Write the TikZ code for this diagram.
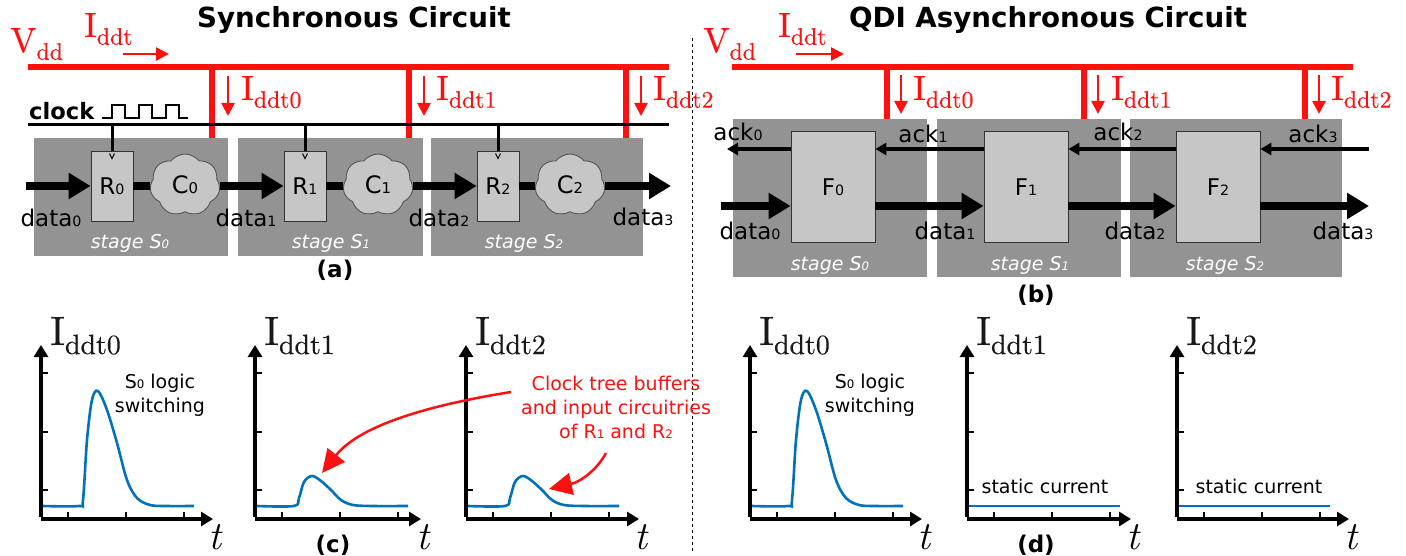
\documentclass[tikz,border=0pt]{standalone}
\usepackage{fontspec}
\setsansfont{DejaVu Sans}
\newfontfamily\curfont[FakeBold=0.3]{lmroman10-regular.otf}
\usetikzlibrary{arrows.meta,shapes.symbols}
\definecolor{busred}{HTML}{FF1010}
\definecolor{stagegray}{HTML}{939393}
\definecolor{cellgray}{HTML}{C6C6C6}
\definecolor{waveblue}{HTML}{0072BD}
\newcommand{\fsz}[1]{\fontsize{#1}{#1}\selectfont}
\newcommand{\sdig}[1]{\scalebox{.62}{#1}}
\newcommand{\lsub}[2]{#1\raisebox{-.22em}{\scalebox{.68}{#2}}}
\tikzset{
  bus/.style={busred,line width=6pt},
  drop/.style={busred,line width=6pt},
  curarrow/.style={busred,line width=2.5pt,-{Triangle[length=13pt,width=13pt]}},
  datarrow/.style={line width=7.5pt,-{Triangle[length=22pt,width=25pt]}},
  ackarrow/.style={line width=3.5pt,-{Triangle[length=11pt,width=12pt]}},
  stagebox/.style={fill=stagegray,anchor=north west,inner sep=0pt},
  cell/.style={draw=black!80,fill=cellgray,line width=.8pt,inner sep=0pt,font=\sffamily\fsz{23}},
  cloudcell/.style={cloud,cloud puffs=7,cloud puff arc=105,aspect=1.1,shape border rotate=90,draw=black!70,fill=cellgray,line width=.8pt,inner sep=0pt,minimum width=70pt,minimum height=62pt,font=\sffamily\fsz{24}},
  redlab/.style={busred,font=\curfont\fsz{35},inner sep=0pt,anchor=base west},
  datalab/.style={font=\sffamily\fsz{23},inner sep=0pt},
  stagelab/.style={white,font=\sffamily\itshape\fsz{19},inner sep=0pt},
  titlelab/.style={font=\sffamily\bfseries\fsz{27.7},inner sep=0pt},
  sublab/.style={font=\sffamily\bfseries\fsz{23},inner sep=0pt},
  axis/.style={line width=4.5pt,-{Triangle[length=12pt,width=14pt]}},
  tick/.style={line width=1.6pt},
  wave/.style={waveblue,line width=2.6pt},
  axlab/.style={black!90,font=\curfont\fsz{41},inner sep=0pt,anchor=base west},
  note/.style={font=\sffamily\fontsize{19}{24}\selectfont,inner sep=0pt,align=center},
  callout/.style={busred,line width=2.5pt,-{Triangle[length=23pt,width=22pt]}},
}
\begin{document}
\begin{tikzpicture}[x=1pt,y=-1pt]
\useasboundingbox (0,0) rectangle (1406,556);
% synchronous circuit
\node[titlelab] (titlea) at (354,20) {Synchronous Circuit};
\node[redlab] (vdda) at (10,52) {\lsub{V}{dd}};
\node[redlab] (ia) at (84,37) {\lsub{I}{ddt}};
\coordinate (busa0) at (28,67); \coordinate (busa1) at (669,67);
\draw[bus] (busa0) -- (busa1);
\coordinate (ika0) at (123,54); \coordinate (ika1) at (169,54);
\draw[curarrow] (ika0) -- (ika1);
\foreach \st/\sx/\sw/\dx/\ax/\slx/\lx in {0/34/194/212/228/130/241,1/238/185/409/424/331/436,2/431/212/626/641/524/653}{
  \node[stagebox,minimum width=\sw pt,minimum height=118pt] (sa\st) at (\sx,138) {};
  \coordinate (da\st) at (\dx,67);
  \coordinate (dae\st) at (\dx,138);
  \draw[drop] (da\st) -- (dae\st);
  \coordinate (ca\st) at (\ax,76); \coordinate (cb\st) at (\ax,116);
  \draw[curarrow] (ca\st) -- (cb\st);
  \node[redlab] (ida\st) at (\lx,100) {\lsub{I}{ddt\st}};
  \node[stagelab] at (\slx,243) {stage S\sdig{\st}};
}
\coordinate (cka) at (28,125); \coordinate (ckb) at (669,125);
\draw[line width=3pt] (cka) -- (ckb);
\node[font=\sffamily\bfseries\fsz{22.6},inner sep=0pt,anchor=west] (clk) at (29,111) {clock};
\draw[line width=1.7pt] (102,118) -- (112,118) -- (112,105) -- (125,105) -- (125,118) -- (139,118) -- (139,105) -- (152,105) -- (152,118) -- (166,118) -- (166,105) -- (179,105) -- (179,118) -- (188,118);
\coordinate (ina) at (26,186); \coordinate (outa) at (671,186);
\foreach \st/\rx/\cx in {0/112/185,1/305/378,2/498/570}{
  \node[cell,minimum width=42pt,minimum height=70pt] (r\st) at (\rx,186) {R\sdig{\st}};
  \node[cloudcell] (c\st) at (\cx,185) {C\sdig{\st}};
  \coordinate (tap\st) at (\rx,125);
  \draw[line width=3pt] (tap\st) -- (r\st.north);
  \draw[line width=1pt] ([shift={(-2.5,3)}]r\st.north) -- ([shift={(0,8)}]r\st.north) -- ([shift={(2.5,3)}]r\st.north);
  \draw[line width=7.5pt] (r\st.east) -- (c\st.west |- r\st.east);
}
\draw[datarrow] (ina) -- (r0.west);
\draw[datarrow] (c0.east |- ina) -- (r1.west);
\draw[datarrow] (c1.east |- ina) -- (r2.west);
\draw[datarrow] (c2.east |- ina) -- (outa);
\node[datalab] at (51,218) {data\sdig{0}};
\node[datalab] at (246,218) {data\sdig{1}};
\node[datalab] at (439,218) {data\sdig{2}};
\node[datalab] at (643,217) {data\sdig{3}};
\node[sublab] (capa) at (335,270) {(a)};
% QDI circuit
\node[titlelab] (titleb) at (1048,20) {QDI Asynchronous Circuit};
\node[redlab] (vddb) at (703,52) {\lsub{V}{dd}};
\node[redlab] (ib) at (778,37) {\lsub{I}{ddt}};
\coordinate (busb0) at (732,67); \coordinate (busb1) at (1353,67);
\draw[bus] (busb0) -- (busb1);
\coordinate (ikb0) at (796,54); \coordinate (ikb1) at (844,54);
\draw[curarrow] (ikb0) -- (ikb1);
\foreach \st/\sx/\sw/\dx/\fx/\ax/\slx/\lx in {0/733/194/887/833/901/830/913,1/937/184/1084/1026/1098/1030/1111,2/1130/212/1305/1218/1319/1225/1331}{
  \node[stagebox,minimum width=\sw pt,minimum height=158pt] (sb\st) at (\sx,119) {};
  \coordinate (db\st) at (\dx,67);
  \coordinate (dbe\st) at (\dx,119);
  \draw[drop] (db\st) -- (dbe\st);
  \coordinate (cc\st) at (\ax,75); \coordinate (cd\st) at (\ax,114);
  \draw[curarrow] (cc\st) -- (cd\st);
  \node[redlab] (idb\st) at (\lx,100) {\lsub{I}{ddt\st}};
  \node[stagelab] at (\slx,265) {stage S\sdig{\st}};
  \node[cell,minimum width=84pt,minimum height=111pt] (f\st) at (\fx,187) {F\sdig{\st}};
}
\coordinate (ackin) at (1369,149); \coordinate (ackout) at (727,149);
\coordinate (inb) at (721,206); \coordinate (outb) at (1369,206);
\draw[ackarrow] (ackin) -- (f2.east |- ackin);
\draw[ackarrow] (f2.west |- ackin) -- (f1.east |- ackin);
\draw[ackarrow] (f1.west |- ackin) -- (f0.east |- ackin);
\draw[ackarrow] (f0.west |- ackin) -- (ackout);
\draw[datarrow] (inb) -- (f0.west |- inb);
\draw[datarrow] (f0.east |- inb) -- (f1.west |- inb);
\draw[datarrow] (f1.east |- inb) -- (f2.west |- inb);
\draw[datarrow] (f2.east |- inb) -- (outb);
\node[datalab] at (738,132) {ack\sdig{0}};
\node[datalab] at (923,134) {ack\sdig{1}};
\node[datalab] at (1118,132) {ack\sdig{2}};
\node[datalab] at (1313,134) {ack\sdig{3}};
\node[datalab] at (750,231) {data\sdig{0}};
\node[datalab] at (945,231) {data\sdig{1}};
\node[datalab] at (1135,231) {data\sdig{2}};
\node[datalab] at (1343,231) {data\sdig{3}};
\node[sublab] (capb) at (1036,295) {(b)};
\coordinate (seplo) at (692,552); \coordinate (sephi) at (692,38);
\draw[dashed,line width=.8pt] (sephi) -- (seplo);
% current waveforms
\foreach \ox/\xl/\st/\kind in {41/172/0/tall,255/166/1/low,466/173/2/low,750/172/0/tall,967/164/1/flat,1177/172/2/flat}{
\begin{scope}[xshift=\ox pt]
  \coordinate (o) at (0,519); \coordinate (xtip) at (\xl,519); \coordinate (ytip) at (0,345);
  \draw[axis] (o) -- (xtip);
  \draw[axis] ([yshift=2.2pt]o) -- (ytip);
  \foreach \tx in {27,85,143}{\draw[tick] (\tx,519) -- (\tx,512);}
  \foreach \ty in {373,432,490}{\draw[tick] (0,\ty) -- (7,\ty);}
  \node[axlab] at (9,345) {\lsub{I}{ddt\st}};
  \node[font=\itshape\fsz{40},inner sep=0pt] at (\xl+2,537) {t};
  \ifnum\pdfstrcmp{\kind}{tall}=0
    \draw[wave] plot[smooth,tension=.55] coordinates {(2,506) (38,506) (42,500) (46,440) (51,400) (57,391) (66,410) (76,443) (86,480) (96,498) (109,505) (125,506) (153,506)};
  \fi
  \ifnum\pdfstrcmp{\kind}{low}=0
    \draw[wave] plot[smooth,tension=.55] coordinates {(2,506) (39,506) (44,498) (49,482) (57,476) (66,481) (76,490) (86,500) (98,505) (118,506) (153,506)};
  \fi
  \ifnum\pdfstrcmp{\kind}{flat}=0
    \draw[wave] (2,506) -- (153,506);
  \fi
\end{scope}
}
\node[note] (nsa) at (160,395.5) {S\sdig{0} logic\\switching};
\node[note] (nsb) at (870,395.5) {S\sdig{0} logic\\switching};
\node[note] (nstat1) at (1045,486) {static current};
\node[note] (nstat2) at (1259,486) {static current};
\node[note,busred] (nclock) at (616,407) {Clock tree buffers\\and input circuitries\\of R\sdig{1} and R\sdig{2}};
\coordinate (cfrom) at (511,392); \coordinate (cto) at (322,473);
\coordinate (dfrom) at (606,453); \coordinate (dto) at (549,489);
\draw[callout] (cfrom) .. controls (430,405) and (360,425) .. (cto);
\draw[callout] (dfrom) .. controls (597,470) and (580,482) .. (dto);
\node[sublab] (capc) at (333,545) {(c)};
\node[sublab] (capd) at (1036,545) {(d)};
\end{tikzpicture}
\end{document}
